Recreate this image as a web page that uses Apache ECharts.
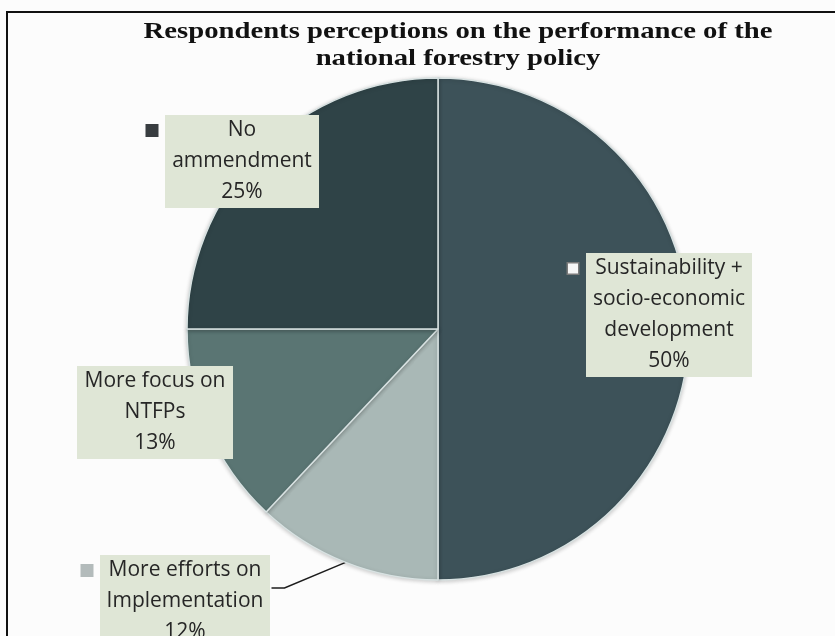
<!DOCTYPE html>
<html>
<head>
<meta charset="utf-8">
<script src="https://cdn.jsdelivr.net/npm/echarts@6/dist/echarts.min.js"></script>
<style>
html,body{margin:0;padding:0;background:#fcfcfc;}
#chart{width:835px;height:636px;}
</style>
</head>
<body>
<div id="chart"></div>
<script>
// ---- data ----
const categories = [
  'Sustainability +\nsocio-economic\ndevelopment',
  'More efforts on\nImplementation',
  'More focus on\nNTFPs',
  'No\nammendment'
];
const values = [50, 12, 13, 25];
const titleText = 'Respondents perceptions on the performance of the\nnational forestry policy';

// ---- styles (not data) ----
const sliceColors = ['#3d5259', '#a9b8b6', '#5a7573', '#2f4347'];
const labelStyles = [
  { x: 568, y: 253, w: 166, marker: { fill: '#f6f6f6', border: '#7a7a7a' } },
  { x: 82,  y: 555, w: 170, marker: { fill: '#b3bbbb', border: '#b3bbbb' }, leader: true },
  { x: 77,  y: 366, w: 156, marker: null },
  { x: 147, y: 115, w: 154, marker: { fill: '#383d40', border: '#383d40' } }
];
const LH = 31, MK = 10, GAP = 8;

function makeLabel(i) {
  const s = labelStyles[i];
  const rich = {
    t: { width: s.w, height: LH, lineHeight: LH, align: 'center', backgroundColor: '#dfe6d6',
         fontSize: 21, fontFamily: 'Open Sans', color: '#262626' },
    g: { width: GAP, lineHeight: LH },
    sp: { width: MK + GAP, lineHeight: LH }
  };
  if (s.marker) {
    rich.mk = { width: MK, height: MK, lineHeight: LH, backgroundColor: s.marker.fill,
                borderColor: s.marker.border, borderWidth: 1.5 };
  }
  return {
    show: true,
    lineHeight: LH,
    rich: rich,
    formatter: function (p) {
      const lines = p.name.split('\n').concat([p.value + '%']);
      return lines.map(function (ln, k) {
        let pre = '';
        if (s.marker) pre = (k === 0) ? '{mk|}{g|}' : '{sp|}';
        return pre + '{t|' + ln + '}';
      }).join('\n');
    }
  };
}

const seriesData = categories.map(function (c, i) {
  return {
    name: c,
    value: values[i],
    itemStyle: { color: sliceColors[i] },
    label: makeLabel(i),
    labelLine: { show: !!labelStyles[i].leader }
  };
});

const chart = echarts.init(document.getElementById('chart'), null, { renderer: 'canvas' });
chart.setOption({
  backgroundColor: '#fcfcfc',
  animation: false,
  graphic: [{
    type: 'rect', silent: true, z: -1,
    shape: { x: 7, y: 12, width: 900, height: 700 },
    style: { fill: 'none', stroke: '#111', lineWidth: 2 }
  }, {
    type: 'text', silent: true, z: 10,
    x: 458, y: 18, scaleX: 1.195,
    style: {
      text: titleText,
      align: 'center', verticalAlign: 'top',
      fontFamily: 'Liberation Serif', fontWeight: 'bold', fontSize: 24, lineHeight: 27,
      fill: '#111'
    }
  }],
  series: [{
    type: 'pie',
    center: [438, 329],
    radius: 251,
    startAngle: 90,
    clockwise: true,
    avoidLabelOverlap: false,
    minShowLabelAngle: 0,
    silent: true,
    emphasis: { disabled: true },
    itemStyle: { borderColor: '#d8e2e2', borderWidth: 1.5, shadowBlur: 4, shadowColor: 'rgba(0,0,0,0.2)', shadowOffsetY: 1 },
    label: { show: true, position: 'outside' },
    labelLine: { show: false, lineStyle: { color: '#1c1c1c', width: 1.5 } },
    labelLayout: function (params) {
      const s = labelStyles[params.dataIndex];
      const out = { x: s.x, y: s.y, align: 'left', verticalAlign: 'top' };
      if (s.leader && params.labelLinePoints && params.labelLinePoints[0]) {
        const right = s.x + params.labelRect.width;
        const yMid = s.y + 33;
        out.labelLinePoints = [params.labelLinePoints[0], [right + 13, yMid], [right, yMid]];
      }
      return out;
    },
    data: seriesData
  }]
});
</script>
</body>
</html>
